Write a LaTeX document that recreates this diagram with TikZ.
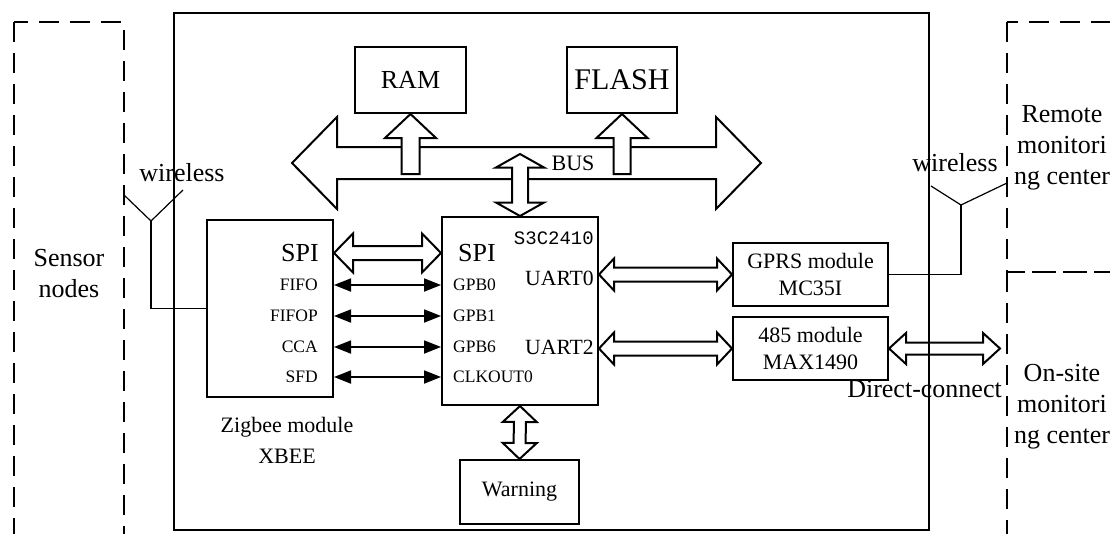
\documentclass[tikz,border=0pt]{standalone}
\usepackage{fontspec}
\setmainfont{Liberation Serif}
\setmonofont{Liberation Mono}
\usetikzlibrary{calc,arrows.meta}

\tikzset{
  box/.style={draw, line width=2pt, inner sep=0pt},
  zone/.style={draw, line width=2pt, dash pattern=on 20pt off 11pt},
  fat/.style={draw, fill=white, line width=2pt, line join=miter},
  pin/.style={line width=1.8pt, {Triangle[length=17pt,width=13pt]}-{Triangle[length=17pt,width=13pt]}},
  wire/.style={line width=1.2pt},
  big/.style={font=\fontsize{26}{31}\selectfont},
  mid/.style={font=\fontsize{22}{26.5}\selectfont},
  small/.style={font=\fontsize{17.5}{20}\selectfont, inner sep=0pt},
}

% hollow double arrow: from, to, shaft half, head half, head length
\newcommand{\fatarrow}[5]{%
  \coordinate (fa1) at ($(#1)!#5!(#2)$);
  \coordinate (fa2) at ($(#2)!#5!(#1)$);
  \draw[fat] (#1) -- ($(fa1)!#4!90:(#2)$) -- ($(fa1)!#3!90:(#2)$)
    -- ($(fa2)!#3!-90:(#1)$) -- ($(fa2)!#4!-90:(#1)$) -- (#2)
    -- ($(fa2)!#4!90:(#1)$) -- ($(fa2)!#3!90:(#1)$)
    -- ($(fa1)!#3!-90:(#2)$) -- ($(fa1)!#4!-90:(#2)$) -- cycle;}
% hollow single arrow: tail, tip, shaft half, head half, head length
\newcommand{\fatsingle}[5]{%
  \coordinate (fa2) at ($(#2)!#5!(#1)$);
  \draw[fat] (#2) -- ($(fa2)!#4!90:(#1)$) -- ($(fa2)!#3!90:(#1)$)
    -- ($(#1)!#3!-90:(#2)$) -- ($(#1)!#3!90:(#2)$)
    -- ($(fa2)!#3!-90:(#1)$) -- ($(fa2)!#4!-90:(#1)$) -- cycle;}

\begin{document}
\begin{tikzpicture}[x=1pt,y=-1pt]
  \useasboundingbox (0,0) rectangle (1110,533);

  % outside zones
  \draw[zone] (14,22) rectangle (124,570);
  \draw[zone] (1007,22) rectangle (1150,272);
  \draw[zone] (1007,272) rectangle (1150,570);
  \node[big, align=center] (sensor) at (69,274) {Sensor\\nodes};
  \node[big, align=center] (remote) at (1062,148) {Remote\\monitori\\ng center};
  \node[big, align=center] (onsite) at (1062,407) {On-site\\monitori\\ng center};

  % modules
  \node[box, minimum width=111pt, minimum height=66pt, big] (ram) at (410.5,80) {RAM};
  \node[box, minimum width=110pt, minimum height=66pt, font=\fontsize{30}{36}\selectfont] (flash) at (622,80) {FLASH};
  \node[box, minimum width=156pt, minimum height=188pt] (cpu) at (520,311) {};
  \node[box, minimum width=126pt, minimum height=177pt] (zig) at (270,308.5) {};
  \node[box, minimum width=155pt, minimum height=63pt, mid, align=center] (gprs) at (810.5,274.5) {GPRS module\\MC35I};
  \node[box, minimum width=155pt, minimum height=63pt, mid, align=center] (rs) at (810.5,348.5) {485 module\\MAX1490};
  \node[box, minimum width=119pt, minimum height=64pt, mid] (warn) at (519.5,492) {Warning};
  \node[mid, align=center, font=\fontsize{22}{31}\selectfont] (xbee) at (287,440) {Zigbee module\\XBEE};

  % bus
  \coordinate (busL) at (292,163);
  \coordinate (busR) at (761,163);
  \fatarrow{busL}{busR}{16pt}{46pt}{45pt}
  \coordinate (ramT) at (410.5,174);
  \coordinate (flashT) at (622,174);
  \fatsingle{ramT}{ram.south}{9pt}{25.5pt}{24pt}
  \fatsingle{flashT}{flash.south}{8.5pt}{25.5pt}{24pt}
  \coordinate (cpuT) at (520,154);
  \fatarrow{cpuT}{cpu.north}{8pt}{24pt}{13.5pt}
  \node[mid] (bus) at (573,163) {BUS};

  % chip pins
  \node[big, inner sep=0pt, anchor=east] (zspi) at (319,253) {SPI};
  \node[big, inner sep=0pt, anchor=west] (cspi) at (458,253) {SPI};
  \node[font=\fontsize{19}{22}\ttfamily, inner sep=0pt, anchor=east] (chip) at (594,238) {S3C2410};
  \node[font=\fontsize{21.7}{26}\selectfont, inner sep=0pt, anchor=east] (u0) at (594,278) {UART0};
  \node[font=\fontsize{21.7}{26}\selectfont, inner sep=0pt, anchor=east] (u2) at (594,347) {UART2};
  \foreach \zn/\cn/\y [count=\i] in {FIFO/GPB0/285, FIFOP/GPB1/316, CCA/GPB6/347, SFD/CLKOUT0/377} {
    \node[small, anchor=east] (zp\i) at (318,\y) {\zn};
    \node[small, anchor=west] (cp\i) at (453,\y) {\cn};
    \draw[pin] (zig.east |- zp\i) -- (cpu.west |- zp\i);
  }
  \fatarrow{zig.east |- zspi}{cpu.west |- zspi}{7pt}{19.5pt}{19pt}
  \fatarrow{cpu.east |- gprs.west}{gprs.west}{7pt}{16pt}{15pt}
  \fatarrow{cpu.east |- rs.west}{rs.west}{7pt}{16pt}{15pt}
  \fatarrow{cpu.south}{warn.north}{6pt}{17pt}{16pt}
  \coordinate (siteL) at (1000,348.5);
  \fatarrow{rs.east}{siteL}{6pt}{15.5pt}{17pt}
  \node[big] (direct) at (924.5,389) {Direct-connect};

  % antennas
  \coordinate (antL) at (151,221);
  \draw[wire] (zig.west) -| (antL);
  \draw[wire] (124,195) -- (antL) -- (183,190);
  \node[big] (wlL) at (182,173) {wireless};
  \coordinate (antR) at (961,205);
  \draw[wire] (gprs.east) -| (antR);
  \draw[wire] (931,186) -- (antR) -- (1007,183);
  \node[big] (wlR) at (955,163) {wireless};

  % main board
  \draw[line width=2.4pt] (174,13) rectangle (929,530);
\end{tikzpicture}
\end{document}
